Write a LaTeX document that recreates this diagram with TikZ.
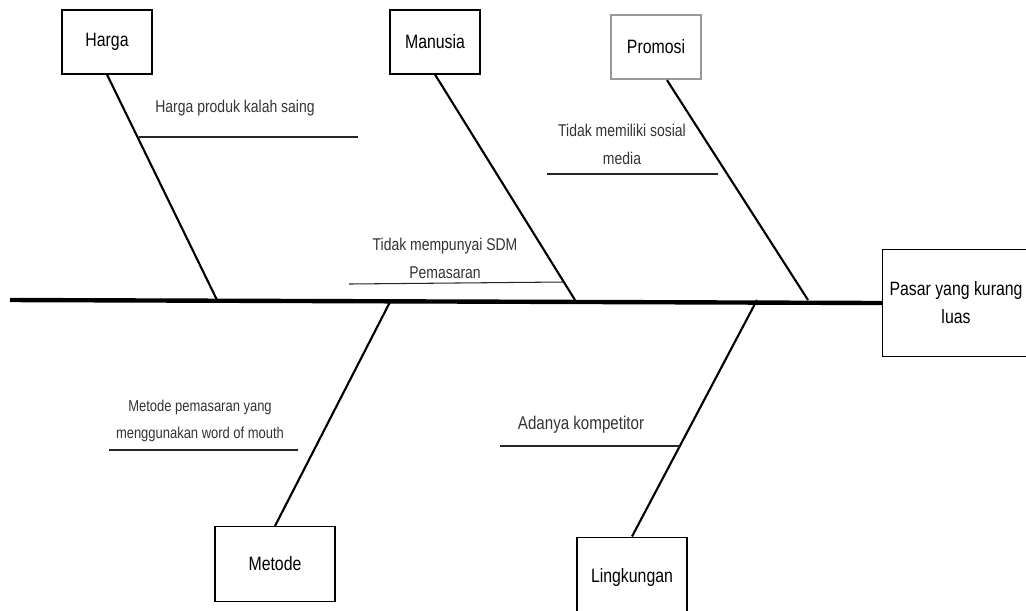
\documentclass[tikz,border=0pt]{standalone}
\usepackage{fontspec}
\setmainfont{Liberation Sans}[FakeStretch=0.82]
\begin{document}
\begin{tikzpicture}[x=0.02cm,y=-0.02cm]
    \tikzset{box/.style = {draw,line width=0.6pt,minimum width=1.8cm,minimum height=1.28cm,font=\fontsize{11}{16}\selectfont}}
    \tikzset{bone/.style = {line width=1.2pt}}
    \tikzset{cause/.style = {align=center,font=\fontsize{9.7}{16}\selectfont,text=black!80}}
    \tikzset{underline/.style = {line width=0.6pt,black!85}}
    \useasboundingbox (0,0) rectangle (1026,610);
    % boxes
    \node[box] (harga) at (107,42) {Harga};
    \node[box] (manusia) at (435,42) {Manusia};
    \node[box,draw=black!40,line width=1.3pt] (promosi) at (656,47) {Promosi};
    \node[box,minimum width=2.4cm,minimum height=1.5cm] (metode) at (275,564) {Metode};
    \node[box,minimum width=2.2cm,minimum height=1.6cm] (lingkungan) at (632,577) {Lingkungan};
    \node[box,minimum width=2.94cm,minimum height=2.14cm,align=center] (pasar) at (956,303) {Pasar yang kurang\\luas};
    % spine
    \coordinate (tail) at (10,300);
    \coordinate (h) at (217,300);
    \coordinate (m) at (575,300);
    \coordinate (p) at (808,300);
    \coordinate (me) at (391,300);
    \coordinate (l) at (757,300);
    \draw[line width=2.5pt] (tail) -- (pasar.west);
    \draw[bone] (harga.south) -- (h);
    \draw[bone] (manusia.south) -- (m);
    \draw[bone] ([xshift=0.22cm]promosi.south) -- (p);
    \draw[bone] (metode.north) -- (me);
    \draw[bone] (lingkungan.north) -- (l);
    % causes
    \coordinate (h1) at (139,137);
    \coordinate (h2) at (358,137);
    \draw[underline] (h1) -- (h2);
    \node[cause] (hc) at (235,108) {Harga produk kalah saing};
    \coordinate (m1) at (349,284);
    \coordinate (m2) at (563,282);
    \draw[underline] (m1) -- (m2);
    \node[cause] (mc) at (445,258) {Tidak mempunyai SDM\\Pemasaran};
    \coordinate (p1) at (547,174);
    \coordinate (p2) at (718,174);
    \draw[underline] (p1) -- (p2);
    \node[cause] (pc) at (622,144) {Tidak memiliki sosial\\media};
    \coordinate (me1) at (109,450);
    \coordinate (me2) at (298,450);
    \draw[underline] (me1) -- (me2);
    \node[cause,font=\fontsize{9}{15}\selectfont] (mec) at (200,421) {Metode pemasaran yang\\menggunakan word of mouth};
    \coordinate (l1) at (500,446);
    \coordinate (l2) at (680,446);
    \draw[underline] (l1) -- (l2);
    \node[cause,font=\fontsize{10.5}{16}\selectfont] (lc) at (581,425) {Adanya kompetitor};
\end{tikzpicture}
\end{document}
